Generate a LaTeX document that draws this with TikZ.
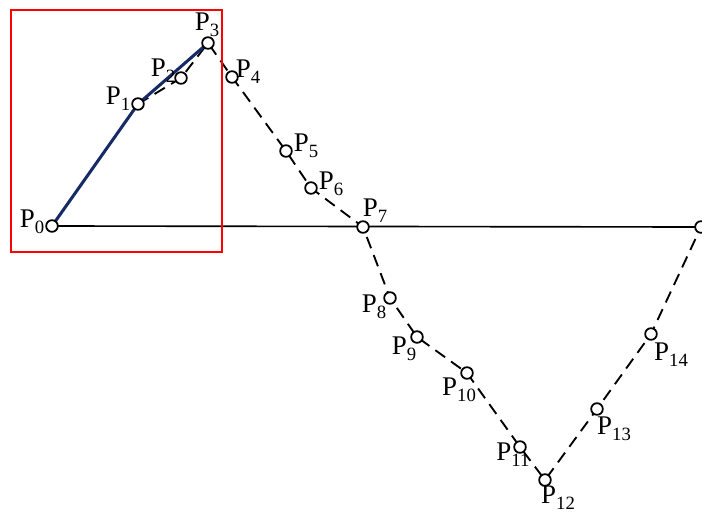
\documentclass[tikz,border=0pt]{standalone}
\usepackage{fontspec}
\setmainfont{Liberation Serif}
\usetikzlibrary{backgrounds}
\definecolor{navy}{RGB}{22,42,102}
\newcommand{\ptlbl}[1]{P\raisebox{-5pt}{\fontsize{16}{16}\selectfont #1}}
\tikzset{
  pt/.style={draw, circle, fill=white, line width=1.5pt, inner sep=0pt, minimum size=3.5mm},
  lbl/.style={inner sep=0pt, font=\fontsize{23}{28}\selectfont},
  every label/.style={lbl},
  dashline/.style={line width=1.6pt, dash pattern=on 3.6mm off 2.2mm},
}
\begin{document}
\begin{tikzpicture}[x=0.3mm,y=-0.3mm]
\useasboundingbox (0,0) rectangle (702,513);
% points of the path, labels shifted from the point centre
\node[pt, label={[shift={(-20,-4)}]center:\ptlbl{0}}] (p0) at (52,226) {};
\node[pt, label={[shift={(-20,-5)}]center:\ptlbl{1}}] (p1) at (138,104) {};
\node[pt, label={[shift={(-18,-7)}]center:\ptlbl{2}}] (p2) at (181,78) {};
\node[pt, label={[shift={(-1,-18)}]center:\ptlbl{3}}] (p3) at (208,43) {};
\node[pt, label={[shift={(16,-5.5)}]center:\ptlbl{4}}] (p4) at (232,77) {};
\node[pt, label={[shift={(20,-5)}]center:\ptlbl{5}}] (p5) at (286,151) {};
\node[pt, label={[shift={(20,-4.5)}]center:\ptlbl{6}}] (p6) at (311,188) {};
\node[pt, label={[shift={(12,-16.5)}]center:\ptlbl{7}}] (p7) at (363,227) {};
\node[pt, label={[shift={(-16,9)}]center:\ptlbl{8}}] (p8) at (390,298) {};
\node[pt, label={[shift={(-13,12)}]center:\ptlbl{9}}] (p9) at (417,337) {};
\node[pt, label={[shift={(-8,16.5)}]center:\ptlbl{10}}] (p10) at (467,373) {};
\node[pt, label={[shift={(-7,8)}]center:\ptlbl{11}}] (p11) at (520,447) {};
\node[pt, label={[shift={(13,17.5)}]center:\ptlbl{12}}] (p12) at (545,480) {};
\node[pt, label={[shift={(17,19.5)}]center:\ptlbl{13}}] (p13) at (597,409) {};
\node[pt, label={[shift={(20,21)}]center:\ptlbl{14}}] (p14) at (651,334) {};
\node[pt] (p15) at (701,227) {};

\begin{pgfonlayer}{background}
\draw[dashline] (p1.center) -- (p2.center) -- (p3.center) -- (p4.center) -- (p5.center) -- (p6.center) -- (p7.center) -- (p8.center) -- (p9.center) -- (p10.center) -- (p11.center) -- (p12.center) -- (p13.center) -- (p14.center) -- (p15.center);
\draw[line width=1.4pt] (p0.center) -- (p15.center);
\draw[navy, line width=2.6pt] (p0.center) -- (p1.center) -- (p3.center);
\end{pgfonlayer}

\draw[red, line width=2.2pt] (11,10) rectangle (222,252);
\end{tikzpicture}
\end{document}
